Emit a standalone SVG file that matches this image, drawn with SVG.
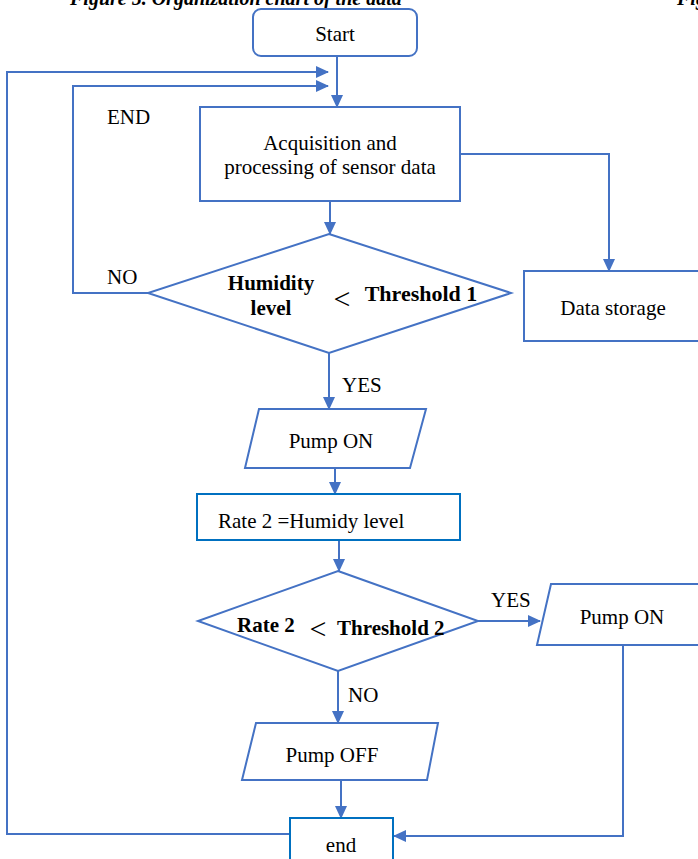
<svg xmlns="http://www.w3.org/2000/svg" width="698" height="859" viewBox="0 0 698 859">
<defs>
<marker id="ah" markerWidth="13" markerHeight="12" refX="12" refY="6" orient="auto" markerUnits="userSpaceOnUse" viewBox="0 0 13 12">
<path d="M0,0 L13,6 L0,12 z" fill="#4472c4"/>
</marker>
<style>
.n{fill:#fff;stroke:#4472c4;stroke-width:2}
.n2{fill:#fff;stroke:#0070c0;stroke-width:2}
.c{fill:none;stroke:#4472c4;stroke-width:2}
.t{font-family:"Liberation Serif","Times New Roman",serif;font-size:21px;fill:#000}
.b{font-weight:bold}
.m{text-anchor:middle}
.lt{font-size:30px}
.cap{font-size:20px;font-weight:bold;font-style:italic}
</style>
</defs>
<rect width="698" height="859" fill="#fff"/>
<text class="t cap" x="70" y="5">Figure 5. Organization chart of the data</text>
<text class="t cap" x="677" y="5">Fig</text>
<g id="connectors">
<path class="c" d="M337,56 V107" marker-end="url(#ah)"/>
<path class="c" d="M290,834 H7 V72 H328" marker-end="url(#ah)"/>
<path class="c" d="M148,293 H73 V86 H328" marker-end="url(#ah)"/>
<path class="c" d="M460,154 H609 V271" marker-end="url(#ah)"/>
<path class="c" d="M330,201 V234" marker-end="url(#ah)"/>
<path class="c" d="M329,353 V409" marker-end="url(#ah)"/>
<path class="c" d="M335,468 V494" marker-end="url(#ah)"/>
<path class="c" d="M339,540 V571" marker-end="url(#ah)"/>
<path class="c" d="M478,621 H540" marker-end="url(#ah)"/>
<path class="c" d="M338,671 V723" marker-end="url(#ah)"/>
<path class="c" d="M341,780 V818" marker-end="url(#ah)"/>
<path class="c" d="M623,645 V836 H394" marker-end="url(#ah)"/>
<text class="t" x="107" y="124">END</text>
<text class="t" x="107" y="284">NO</text>
<text class="t" x="342" y="392">YES</text>
<text class="t" x="491" y="607">YES</text>
<text class="t" x="348" y="702">NO</text>
</g>
<g id="start">
<rect class="n" x="253" y="9" width="164" height="47" rx="8"/>
<text class="t m" x="335" y="41">Start</text>
</g>
<g id="acquisition">
<rect class="n" x="200" y="107" width="260" height="94"/>
<text class="t m" x="330" y="150">Acquisition and</text>
<text class="t m" x="330" y="174">processing of sensor data</text>
</g>
<g id="storage">
<rect class="n" x="524" y="271" width="180" height="70"/>
<text class="t m" x="613" y="315">Data storage</text>
</g>
<g id="decision1">
<polygon class="n" points="329,234 511,293 329,353 148,293"/>
<text class="t b m" x="271" y="290">Humidity</text>
<text class="t b m" x="271" y="315">level</text>
<text class="t m lt" x="342" y="309">&lt;</text>
<text class="t b m" x="421" y="301" style="font-size:22px">Threshold 1</text>
</g>
<g id="pumpon1">
<polygon class="n" points="259,409 426,409 410,468 245,468"/>
<text class="t m" x="331" y="448">Pump ON</text>
</g>
<g id="rate">
<rect class="n2" x="197" y="494" width="263" height="46"/>
<text class="t" x="218" y="528">Rate 2 =Humidy level</text>
</g>
<g id="decision2">
<polygon class="n" points="338,571 478,621 338,671 198,621"/>
<text class="t b" x="237" y="632">Rate 2</text>
<text class="t m lt" x="318" y="639">&lt;</text>
<text class="t b" x="337" y="635">Threshold 2</text>
</g>
<g id="pumpon2">
<polygon class="n" points="551,584 710,584 710,645 537,645"/>
<text class="t m" x="622" y="624">Pump ON</text>
</g>
<g id="pumpoff">
<polygon class="n" points="256,723 438,723 427,780 242,780"/>
<text class="t m" x="332" y="762">Pump OFF</text>
</g>
<g id="end">
<rect class="n2" x="290" y="818" width="103" height="50"/>
<text class="t m" x="341" y="852">end</text>
</g>
</svg>
